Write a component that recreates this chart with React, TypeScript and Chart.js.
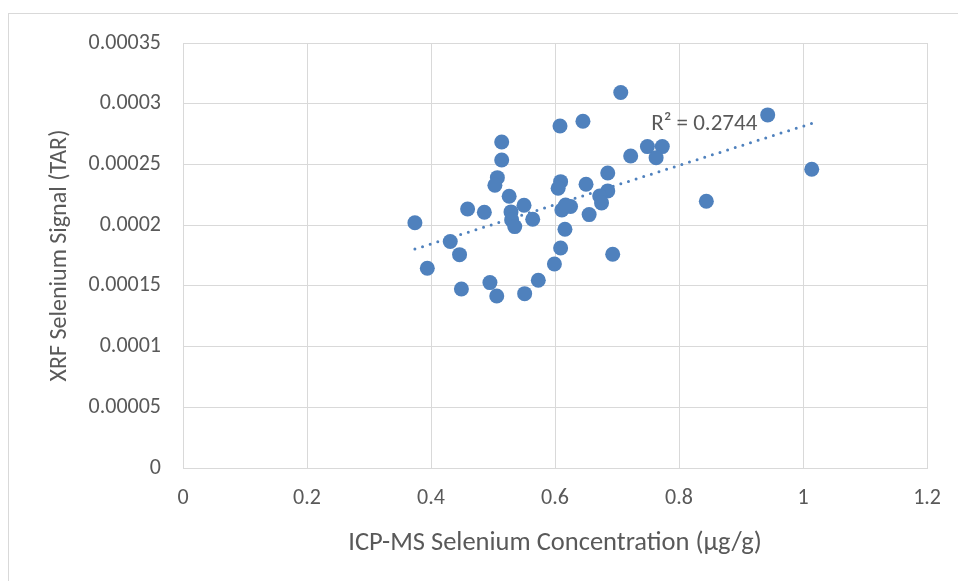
import React, { useEffect, useRef } from "react";
import { Chart, registerables } from "chart.js";

Chart.register(...registerables);

// ICP-MS Selenium Concentration (µg/g)
const icpValues: number[] = [
  0.374, 0.394, 0.431, 0.446, 0.449, 0.459, 0.486, 0.495, 0.506, 0.514,
  0.514, 0.507, 0.503, 0.526, 0.529, 0.530, 0.535, 0.550, 0.564, 0.551,
  0.573, 0.599, 0.609, 0.616, 0.608, 0.645, 0.609, 0.605, 0.650, 0.611,
  0.625, 0.617, 0.655, 0.706, 0.943, 1.014, 0.844, 0.693, 0.722, 0.749,
  0.773, 0.763, 0.685, 0.685, 0.672, 0.675,
];
// XRF Selenium Signal (TAR)
const xrfValues: number[] = [
  0.000202, 0.0001645, 0.0001865, 0.0001757, 0.0001474, 0.0002133, 0.0002106, 0.0001527, 0.0001417, 0.0002685,
  0.0002537, 0.0002391, 0.0002328, 0.0002238, 0.0002109, 0.0002043, 0.0001988, 0.0002164, 0.0002048, 0.0001436,
  0.0001546, 0.000168, 0.0001812, 0.0001966, 0.0002817, 0.0002856, 0.0002358, 0.0002304, 0.0002337, 0.0002125,
  0.0002153, 0.0002166, 0.0002087, 0.0003092, 0.0002908, 0.000246, 0.0002197, 0.000176, 0.000257, 0.0002647,
  0.0002647, 0.0002556, 0.000243, 0.0002282, 0.000224, 0.0002183,
];

const xTickValues: number[] = [0, 0.2, 0.4, 0.6, 0.8, 1, 1.2];
const xTickLabels: string[] = ["0", "0.2", "0.4", "0.6", "0.8", "1", "1.2"];
const yTickValues: number[] = [0, 0.00005, 0.0001, 0.00015, 0.0002, 0.00025, 0.0003, 0.00035];
const yTickLabels: string[] = ["0", "0.00005", "0.0001", "0.00015", "0.0002", "0.00025", "0.0003", "0.00035"];

const xAxisTitle = "ICP-MS Selenium Concentration (µg/g)";
const yAxisTitle = "XRF Selenium Signal (TAR)";
const rSquaredLabel = "R² = 0.2744";

const FONT = "Calibri, Carlito, 'Open Sans', sans-serif";
const TEXT_COLOR = "#595959";
const GRID_COLOR = "#d9d9d9";
const POINT_COLOR = "#4f81bd";

function linearFit(xs: number[], ys: number[]) {
  const n = xs.length;
  const mx = xs.reduce((a, b) => a + b, 0) / n;
  const my = ys.reduce((a, b) => a + b, 0) / n;
  let sxy = 0;
  let sxx = 0;
  for (let i = 0; i < n; i++) {
    sxy += (xs[i] - mx) * (ys[i] - my);
    sxx += (xs[i] - mx) * (xs[i] - mx);
  }
  const slope = sxy / sxx;
  return { slope, intercept: my - slope * mx };
}

export default function App() {
  const canvasRef = useRef<HTMLCanvasElement | null>(null);

  useEffect(() => {
    const canvas = canvasRef.current;
    if (!canvas) return;

    const points = icpValues.map((x, i) => ({ x, y: xrfValues[i] }));
    const fit = linearFit(icpValues, xrfValues);
    const minX = Math.min(...icpValues);
    const maxX = Math.max(...icpValues);
    const trend = [
      { x: minX, y: fit.intercept + fit.slope * minX },
      { x: maxX, y: fit.intercept + fit.slope * maxX },
    ];

    const r2Plugin = {
      id: "r2Label",
      afterDatasetsDraw(chart: any) {
        const { ctx, scales } = chart;
        const px = scales.x.getPixelForValue(0.755);
        const py = scales.y.getPixelForValue(0.000283);
        ctx.save();
        ctx.font = `23px ${FONT}`;
        ctx.fillStyle = TEXT_COLOR;
        ctx.textAlign = "left";
        ctx.textBaseline = "middle";
        ctx.fillText(rSquaredLabel, px, py);
        ctx.restore();
      },
    };

    const chart = new Chart(canvas, {
      type: "scatter",
      data: {
        datasets: [
          {
            type: "line",
            label: "Trend",
            data: trend,
            borderColor: POINT_COLOR,
            borderWidth: 3,
            borderDash: [0, 8],
            borderCapStyle: "round",
            pointRadius: 0,
            fill: false,
            order: 2,
          } as any,
          {
            label: "XRF",
            data: points,
            backgroundColor: POINT_COLOR,
            borderColor: POINT_COLOR,
            borderWidth: 0,
            pointRadius: 7.5,
            pointHoverRadius: 7.5,
            order: 1,
          },
        ],
      },
      options: {
        responsive: false,
        animation: false,
        devicePixelRatio: 1,
        layout: { padding: { top: 43, right: 29, left: 0, bottom: 0 } },
        plugins: {
          legend: { display: false },
          tooltip: { enabled: false },
        },
        scales: {
          x: {
            type: "linear",
            min: 0,
            max: 1.2,
            afterFit: (scale: any) => {
              scale.height = 113;
            },
            afterBuildTicks: (scale: any) => {
              scale.ticks = xTickValues.map((v) => ({ value: v }));
            },
            grid: { color: GRID_COLOR, lineWidth: 1, drawTicks: false },
            border: { display: true, color: GRID_COLOR, width: 1 },
            ticks: {
              padding: 17,
              color: TEXT_COLOR,
              font: { family: FONT, size: 22 },
              callback: (_v: any, i: number) => xTickLabels[i],
              maxRotation: 0,
            },
            title: {
              display: true,
              text: xAxisTitle,
              color: TEXT_COLOR,
              font: { family: FONT, size: 26.5 },
              padding: { top: 0, bottom: 22 },
            },
          },
          y: {
            type: "linear",
            min: 0,
            max: 0.00035,
            afterFit: (scale: any) => {
              scale.width = 183;
            },
            afterBuildTicks: (scale: any) => {
              scale.ticks = yTickValues.map((v) => ({ value: v }));
            },
            grid: { color: GRID_COLOR, lineWidth: 1, drawTicks: false },
            border: { display: false },
            ticks: {
              padding: 22,
              color: TEXT_COLOR,
              font: { family: FONT, size: 22 },
              callback: (_v: any, i: number) => yTickLabels[i],
            },
            title: {
              display: true,
              text: yAxisTitle,
              color: TEXT_COLOR,
              font: { family: FONT, size: 24 },
              padding: { top: 45.5, bottom: 0 },
            },
          },
        },
      },
      plugins: [r2Plugin],
    });

    return () => chart.destroy();
  }, []);

  return (
    <div
      style={{
        position: "absolute",
        left: 0,
        top: 0,
        width: 958,
        height: 581,
        overflow: "hidden",
        background: "#ffffff",
      }}
    >
      <div
        style={{
          position: "absolute",
          left: 8,
          top: 13,
          width: 1100,
          height: 1100,
          border: `1px solid ${GRID_COLOR}`,
          boxSizing: "border-box",
        }}
      />
      <canvas
        ref={canvasRef}
        width={958}
        height={581}
        style={{ position: "absolute", left: 0, top: 0, width: 958, height: 581 }}
      />
    </div>
  );
}
